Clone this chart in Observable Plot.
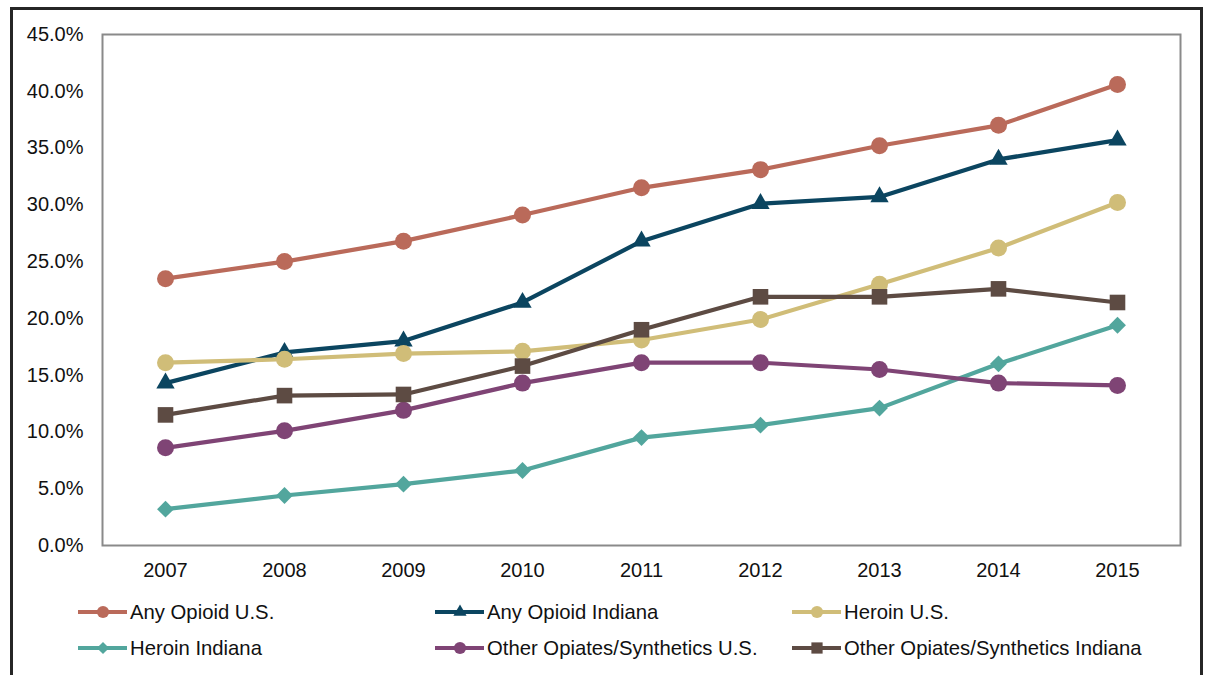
<!DOCTYPE html>
<html>
<head>
<meta charset="utf-8">
<script src="https://cdn.jsdelivr.net/npm/d3@7"></script>
<script src="https://cdn.jsdelivr.net/npm/@observablehq/plot@0.6"></script>
<style>
  html, body { margin: 0; padding: 0; background: #fff; }
  body { width: 1209px; height: 675px; overflow: hidden; position: relative; font-family: "Liberation Sans", Arial, sans-serif; }
  #box { position: absolute; left: 10px; top: 7px; width: 1193px; height: 720px; border: 3px solid #262626; box-sizing: border-box; }
  #chart { position: absolute; left: 0; top: 0; }
  #legend { position: absolute; left: 0; top: 0; width: 1209px; }
  .item { position: absolute; display: flex; align-items: center; height: 24px; font-size: 20.3px; color: #111; white-space: nowrap; }
  .item svg { display: block; margin-right: 2px; }
</style>
</head>
<body>
<div id="box"></div>
<div id="chart"></div>
<div id="legend"></div>
<script>
// Years on the horizontal axis
const years = ["2007", "2008", "2009", "2010", "2011", "2012", "2013", "2014", "2015"];

// Percentages per series
const anyOpioidUS        = [23.5, 25.0, 26.8, 29.1, 31.5, 33.1, 35.2, 37.0, 40.6];
const anyOpioidIndiana   = [14.3, 17.0, 18.0, 21.4, 26.8, 30.1, 30.7, 34.0, 35.7];
const heroinUS           = [16.1, 16.4, 16.9, 17.1, 18.1, 19.9, 23.0, 26.2, 30.2];
const heroinIndiana      = [3.2, 4.4, 5.4, 6.6, 9.5, 10.6, 12.1, 16.0, 19.4];
const otherUS            = [8.6, 10.1, 11.9, 14.3, 16.1, 16.1, 15.5, 14.3, 14.1];
const otherIndiana       = [11.5, 13.2, 13.3, 15.8, 19.0, 21.9, 21.9, 22.6, 21.4];

const seriesNames = [
  "Any Opioid U.S.", "Any Opioid Indiana", "Heroin U.S.",
  "Heroin Indiana", "Other Opiates/Synthetics U.S.", "Other Opiates/Synthetics Indiana"
];
const seriesValues = [anyOpioidUS, anyOpioidIndiana, heroinUS, heroinIndiana, otherUS, otherIndiana];
const seriesColors = ["#BA6A5A", "#0B4560", "#D0BD78", "#52A69D", "#7F4475", "#5D4B43"];
const seriesSymbols = ["circle", "triangle", "circle", "diamond2", "circle", "square"];
const seriesRadius = [8.5, 6.8, 8.5, 7.6, 8.5, 8.8];

const yTicks = [0, 5, 10, 15, 20, 25, 30, 35, 40, 45];

const series = seriesNames.map((name, i) => ({
  name,
  color: seriesColors[i],
  symbol: seriesSymbols[i],
  r: seriesRadius[i],
  rows: years.map((year, j) => ({ year, value: seriesValues[i][j], series: name }))
}));

const marks = [];
for (const s of series) {
  marks.push(Plot.line(s.rows, { x: "year", y: "value", stroke: s.color, strokeWidth: 4.2 }));
  marks.push(Plot.dot(s.rows, { x: "year", y: "value", fill: s.color, symbol: () => s.symbol, r: s.r, stroke: "none" }));
}

const chart = Plot.plot({
  width: 1209,
  height: 590,
  marginLeft: 102,
  marginRight: 29,
  marginTop: 34,
  marginBottom: 45,
  style: { fontFamily: "'Liberation Sans', Arial, sans-serif", background: "transparent", color: "#111" },
  x: { type: "point", domain: years, padding: 0.5 },
  y: { domain: [0, 45] },
  symbol: { type: "identity" },
  marks: [
    Plot.axisY({ ticks: yTicks, tickSize: 0, tickPadding: 19, fontSize: 20, tickFormat: d => d.toFixed(1) + "%", label: null }),
    Plot.axisX({ tickSize: 0, tickPadding: 17, fontSize: 20, label: null }),
    ...marks,
    Plot.frame({ stroke: "#8a8a8a", strokeWidth: 2 })
  ]
});
document.getElementById("chart").appendChild(chart);

// Legend: three columns, two rows
const legend = d3.select("#legend");
const colX = [78, 435, 792];
const rowY = [600, 636];
const symMap = { circle: d3.symbolCircle, triangle: d3.symbolTriangle, square: d3.symbolSquare, diamond2: d3.symbolDiamond2 };
series.forEach((s, i) => {
  const item = legend.append("div").attr("class", "item")
    .style("left", colX[i % 3] + "px")
    .style("top", rowY[Math.floor(i / 3)] + "px");
  const sw = item.append("svg").attr("width", 50).attr("height", 24);
  sw.append("line").attr("x1", 0).attr("x2", 49).attr("y1", 12).attr("y2", 12)
    .attr("stroke", s.color).attr("stroke-width", 4.2);
  const size = Math.PI * Math.pow(s.r * 0.72, 2);
  sw.append("path").attr("transform", "translate(25,12)")
    .attr("d", d3.symbol(symMap[s.symbol], size)()).attr("fill", s.color);
  item.append("span").text(s.name);
});
</script>
</body>
</html>
